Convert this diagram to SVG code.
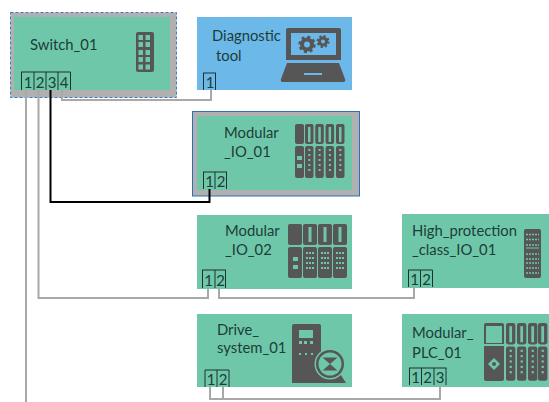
<svg xmlns="http://www.w3.org/2000/svg" width="549" height="402" viewBox="0 0 549 402">
<style>
.g{fill:#6fc7aa}
.b{fill:#6cb8e8}
.fr{fill:#b0b0b0}
.t{font-family:Lato,"Liberation Sans",sans-serif;font-size:14.800px;fill:#1d3d38}
.p{font-family:Lato,"Liberation Sans",sans-serif;font-size:15px;fill:#1d3d38;text-anchor:middle}
.pl{fill:none;stroke:#20302c;stroke-width:1}
.i{fill:#565656}
.lg{fill:#6fc7aa}
.c{fill:none;stroke:#a8a8a8;stroke-width:2}
.k{fill:none;stroke:#000;stroke-width:2}
</style>
<defs>
<g id="narrow">
<rect class="i" x="0" y="0" width="8.500" height="20" rx="2"/>
<rect class="lg" x="3" y="3" width="2.500" height="15"/>
<rect class="i" x="0" y="22" width="8.500" height="32" rx="2"/>
<g class="lg"><rect x="3.300" y="25" width="2" height="2"/><rect x="3.300" y="30" width="2" height="2"/><rect x="3.300" y="35" width="2" height="2"/><rect x="3.300" y="40" width="2" height="2"/><rect x="3.300" y="45" width="2" height="2"/></g>
</g>
<g id="wide">
<rect class="i" x="0" y="0" width="14" height="21" rx="2"/>
<rect class="lg" x="5.500" y="3" width="3" height="15"/>
<rect class="i" x="0" y="23" width="14" height="31" rx="2"/>
<g class="lg"><rect x="3" y="28" width="2" height="2"/><rect x="6" y="28" width="2" height="2"/><rect x="9" y="28" width="2" height="2"/><rect x="3" y="33" width="2" height="2"/><rect x="6" y="33" width="2" height="2"/><rect x="9" y="33" width="2" height="2"/><rect x="3" y="38" width="2" height="2"/><rect x="6" y="38" width="2" height="2"/><rect x="9" y="38" width="2" height="2"/><rect x="3" y="43" width="2" height="2"/><rect x="6" y="43" width="2" height="2"/><rect x="9" y="43" width="2" height="2"/></g>
</g>
</defs>

<g id="Switch_01">
<rect class="fr" x="10.500" y="12.500" width="166" height="85"/>
<rect x="10.500" y="12.500" width="166" height="85" fill="none" stroke="#3a7fc4" stroke-width="1" stroke-dasharray="3 2"/>
<rect class="g" x="14" y="17" width="156" height="73"/>
<text class="t" x="30" y="50">Switch_01</text>
<rect class="i" x="136" y="32" width="18" height="40" rx="2"/>
<g class="lg"><rect x="138.500" y="35" width="4.500" height="5"/><rect x="145.500" y="35" width="4.500" height="5"/><rect x="138.500" y="42" width="4.500" height="5"/><rect x="145.500" y="42" width="4.500" height="5"/><rect x="138.500" y="50" width="4.500" height="5"/><rect x="145.500" y="50" width="4.500" height="5"/><rect x="138.500" y="57" width="4.500" height="5"/><rect x="145.500" y="57" width="4.500" height="5"/><rect x="138.500" y="64.500" width="4.500" height="5"/><rect x="145.500" y="64.500" width="4.500" height="5"/></g>
<path class="pl" d="M21 72H70.500M21.500 72V90M34 72V90M46 72V90M58 72V90M70.500 72V90"/>
<text class="p" x="28" y="88">1</text><text class="p" x="40" y="88">2</text><text class="p" x="52" y="88">3</text><text class="p" x="64" y="88">4</text>
</g>

<g id="Diagnostic_tool">
<rect class="b" x="197" y="17" width="155" height="73"/>
<text class="t" x="212" y="41">Diagnostic</text>
<text class="t" x="216" y="61">tool</text>
<path class="i" d="M288 28H339a2 2 0 0 1 2 2V60H286V30a2 2 0 0 1 2-2Z"/>
<rect class="b" x="291" y="33" width="45" height="22"/>
<path class="i" d="M287 63H339L345 79a2 2 0 0 1-2 3H283a2 2 0 0 1-2-3Z"/>
<rect class="b" x="304" y="73" width="18" height="2"/>
<circle cx="307" cy="44.500" r="5" fill="none" stroke="#565656" stroke-width="4"/>
<circle cx="307" cy="44.500" r="7.500" fill="none" stroke="#565656" stroke-width="2.500" stroke-dasharray="3 2.900"/>
<circle cx="323" cy="41.500" r="3.500" fill="none" stroke="#565656" stroke-width="3"/>
<circle cx="323" cy="41.500" r="5.500" fill="none" stroke="#565656" stroke-width="2" stroke-dasharray="2.200 2.100"/>
<path class="pl" d="M203 73H216M203.500 73V90M215.500 73V90"/>
<text class="p" x="210" y="88">1</text>
</g>

<g id="Modular_IO_01">
<rect class="fr" x="192.500" y="111.500" width="167" height="84.500" stroke="#2f6fb5" stroke-width="1"/>
<rect class="g" x="197" y="116" width="155" height="74"/>
<text class="t" x="224" y="138">Modular</text>
<text class="t" x="224" y="157">_IO_01</text>
<rect class="i" x="295" y="124" width="9" height="20" rx="2"/>
<rect class="i" x="295" y="146" width="9" height="32" rx="2"/>
<rect class="lg" x="297" y="156" width="5" height="4"/><rect class="lg" x="297" y="164" width="5" height="4"/>
<use href="#narrow" x="305" y="124"/><use href="#narrow" x="315.300" y="124"/><use href="#narrow" x="325.600" y="124"/><use href="#narrow" x="336" y="124"/>
<path class="pl" d="M203 172H227M203.500 172V189M215 172V189M226.500 172V189"/>
<text class="p" x="209.500" y="187">1</text><text class="p" x="221" y="187">2</text>
</g>

<g id="Modular_IO_02">
<rect class="g" x="197" y="215" width="155" height="74"/>
<text class="t" x="225" y="236">Modular</text>
<text class="t" x="225" y="255">_IO_02</text>
<rect class="i" x="288" y="224" width="14" height="21" rx="2"/>
<rect class="i" x="288" y="247" width="14" height="31" rx="2"/>
<rect class="lg" x="293" y="257" width="5" height="4"/><rect class="lg" x="293" y="265" width="5" height="4"/>
<use href="#wide" x="303" y="224"/><use href="#wide" x="318" y="224"/><use href="#wide" x="333" y="224"/>
<path class="pl" d="M202 270H226M202.500 270V288M215 270V288M225.500 270V288"/>
<text class="p" x="208.500" y="286">1</text><text class="p" x="220.500" y="286">2</text>
</g>

<g id="High_protection_class_IO_01">
<rect class="g" x="402" y="214" width="147" height="74"/>
<text class="t" x="412" y="236">High_protection</text>
<text class="t" x="412" y="255">_class_IO_01</text>
<rect class="i" x="524" y="229" width="17" height="49" rx="2"/>
<path d="M526 234.500H539M526 239.500H539M526 245H539M526 254H539M526 259H539M526 263H539M526 268H539M526 273H539" fill="none" stroke="#6fc7aa" stroke-width="1.500" stroke-dasharray="2 1"/>
<path d="M526 248H539" stroke="#6fc7aa" stroke-width="1"/>
<path class="pl" d="M408 270H432.500M408.500 270V287M420.500 270V287M432.500 270V287"/>
<text class="p" x="414.500" y="285">1</text><text class="p" x="426.500" y="285">2</text>
</g>

<g id="Drive_system_01">
<rect class="g" x="197" y="314" width="155" height="73"/>
<text class="t" x="217" y="335">Drive_</text>
<text class="t" x="217" y="353">system_01</text>
<path class="i" d="M294 324H319a2 2 0 0 1 2 2V383H292V326a2 2 0 0 1 2-2Z"/>
<rect class="lg" x="299" y="330" width="14" height="8"/>
<rect class="lg" x="299" y="341" width="3" height="3"/><rect class="lg" x="304" y="341" width="3" height="3"/><rect class="lg" x="310" y="341" width="3" height="3"/>
<rect class="lg" x="299" y="353" width="2" height="2"/><rect class="lg" x="305" y="353" width="2" height="2"/><rect class="lg" x="311" y="353" width="2" height="2"/>
<path class="i" d="M313 383L321 372H339L346 383Z"/>
<circle cx="330" cy="364" r="15.500" fill="#6fc7aa"/>
<circle cx="330" cy="364" r="14" fill="#565656"/>
<circle cx="330" cy="364" r="11.500" fill="#6fc7aa"/>
<path class="i" d="M322.500 357.500H337.500L330 364ZM322.500 370.500H337.500L330 364Z"/>
<path class="pl" d="M205 370H229M205 370V387M217 370V387M229 370V387"/>
<text class="p" x="211" y="385">1</text><text class="p" x="223" y="385">2</text>
</g>

<g id="Modular_PLC_01">
<rect class="g" x="402" y="314" width="147" height="73"/>
<text class="t" x="412" y="338">Modular_</text>
<text class="t" x="412" y="358">PLC_01</text>
<rect class="i" x="484" y="323" width="20" height="58" rx="2"/>
<rect class="lg" x="486" y="326" width="16" height="17"/>
<rect x="484" y="344" width="20" height="2" class="lg"/>
<path class="lg" d="M494 358L500 364L494 370L488 364Z"/>
<circle class="i" cx="494" cy="364" r="2"/>
<use href="#narrow" transform="translate(506 323) scale(1.100 1.070)"/><use href="#narrow" transform="translate(517 323) scale(1.100 1.070)"/><use href="#narrow" transform="translate(528 323) scale(1.100 1.070)"/><use href="#narrow" transform="translate(538 323) scale(1.100 1.070)"/>
<path class="pl" d="M409 368H446.500M409.500 368V385M421.500 368V385M434 368V385M446 368V385"/>
<text class="p" x="415.500" y="383">1</text><text class="p" x="427.500" y="383">2</text><text class="p" x="440" y="383">3</text>
</g>

<g id="connectors">
<path class="c" d="M26 90V402"/>
<path class="c" d="M38.500 90V298H208V289"/>
<path class="c" d="M62 90V100H211V90"/>
<path class="k" d="M50.500 90V202H209.500V189"/>
<path class="c" d="M219 288V298H414V287"/>
<path class="c" d="M210 387V399H440V385"/>
<path class="c" d="M223 387V399"/>
</g>
</svg>
